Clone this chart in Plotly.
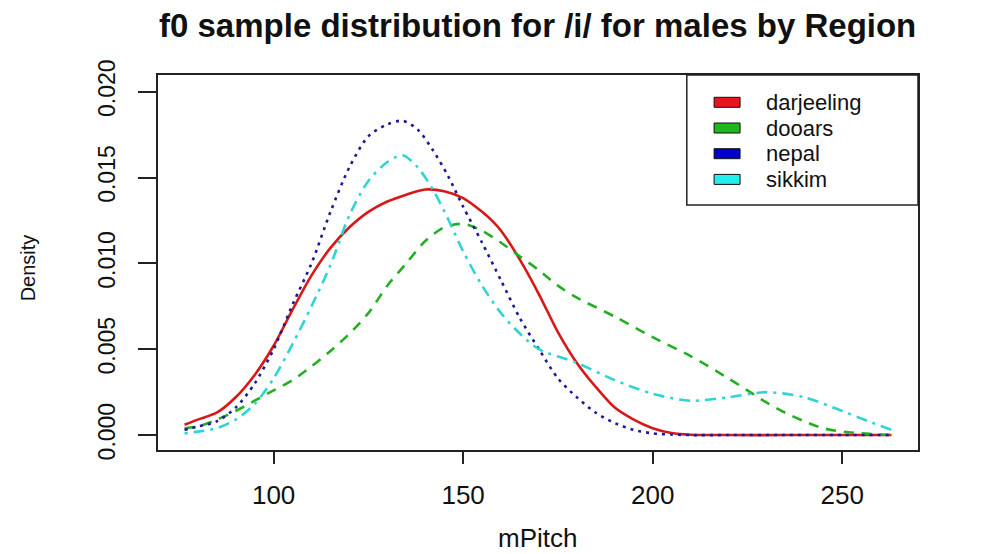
import plotly.graph_objects as go

# ---- data ----
regions = ["darjeeling", "dooars", "nepal", "sikkim"]

darjeeling_x = [76.5, 80, 85, 90, 95, 100, 105, 110, 115, 120, 125, 130, 135, 140, 145, 150, 155, 158,
                160, 165, 170, 175, 180, 185, 190, 195, 200, 205, 210, 220, 235, 250, 263]
darjeeling_y = [0.0006, 0.0009, 0.0013, 0.0022, 0.0035, 0.0052, 0.0073, 0.0093, 0.0109, 0.0121, 0.0130,
                0.0136, 0.0140, 0.0143, 0.0142, 0.0138, 0.0130, 0.0124, 0.0119, 0.0102, 0.0082, 0.0060,
                0.0042, 0.0028, 0.0016, 0.0009, 0.0004, 0.00012, 0.00002, 0.0, 0.0, 0.0, 0.0]

dooars_x = [76.5, 80, 85, 90, 95, 100, 105, 110, 115, 120, 125, 130, 135, 140, 145, 150, 155, 160, 165,
            170, 175, 180, 190, 200, 210, 220, 225, 230, 235, 240, 245, 250, 255, 263]
dooars_y = [0.0004, 0.0005, 0.0009, 0.0014, 0.0020, 0.0026, 0.0032, 0.0040, 0.0049, 0.0059, 0.0071,
            0.0087, 0.0100, 0.0113, 0.0121, 0.0123, 0.0119, 0.0112, 0.0104, 0.0096, 0.0087, 0.0080,
            0.0069, 0.0057, 0.0046, 0.0033, 0.0026, 0.0019, 0.0013, 0.0008, 0.0004, 0.0002, 0.0001, 0.0]

nepal_x = [76.5, 80, 85, 90, 95, 100, 105, 110, 115, 120, 125, 130, 134, 138, 142, 146, 150, 155, 160,
           165, 170, 175, 180, 185, 190, 195, 200, 205, 210, 220, 235, 250, 263]
nepal_y = [0.0003, 0.0005, 0.0008, 0.0016, 0.0030, 0.0050, 0.0076, 0.0100, 0.0130, 0.0156, 0.0174,
           0.0181, 0.0183, 0.0178, 0.0166, 0.0151, 0.0133, 0.0112, 0.0090, 0.0068, 0.0050, 0.0033,
           0.0022, 0.0013, 0.0007, 0.0003, 0.0001, 0.00003, 0.0, 0.0, 0.0, 0.0, 0.0]

sikkim_x = [76.5, 80, 85, 90, 95, 100, 105, 110, 115, 120, 125, 130, 134, 138, 142, 146, 150, 155, 160,
            165, 170, 180, 190, 200, 210, 220, 230, 240, 250, 257, 263]
sikkim_y = [0.0001, 0.0002, 0.0004, 0.0009, 0.0018, 0.0033, 0.0053, 0.0075, 0.0099, 0.0128, 0.0148,
            0.0159, 0.0163, 0.0156, 0.0143, 0.0126, 0.0107, 0.0087, 0.0071, 0.0059, 0.0050, 0.0042,
            0.0032, 0.0024, 0.0020, 0.0022, 0.0025, 0.0022, 0.0014, 0.0008, 0.0003]

x_ticks = [100, 150, 200, 250]
y_ticks = [0.0, 0.005, 0.010, 0.015, 0.020]

# ---- styling ----
line_colors = ["#d81818", "#22b022", "#1c1c96", "#30d4d4"]
legend_colors = ["#e8141e", "#1cb81c", "#0000cc", "#22eeee"]
dashes = ["solid", "10px,8px", "3px,5px", "3px,6px,11px,6px"]
FONT = "Liberation Sans, Arial, sans-serif"

series = [(darjeeling_x, darjeeling_y), (dooars_x, dooars_y), (nepal_x, nepal_y), (sikkim_x, sikkim_y)]

fig = go.Figure()
for (xs, ys), name, col, dsh in zip(series, regions, line_colors, dashes):
    fig.add_trace(go.Scatter(x=xs, y=ys, mode="lines", name=name,
                             line=dict(color=col, width=2.6, dash=dsh, shape="spline", smoothing=0.8),
                             showlegend=False))

# page body has an 8px margin, so the figure is 8px smaller and shifted
fig.update_layout(
    width=973, height=546,
    margin=dict(l=150, r=63, t=67, b=104),
    paper_bgcolor="white", plot_bgcolor="white",
    font=dict(family=FONT, color="#111"),
    xaxis=dict(range=[69.5, 270.0], tickvals=x_ticks, ticktext=[str(v) for v in x_ticks],
               showgrid=False, zeroline=False, showline=True, linecolor="#222", linewidth=1.5,
               mirror=True, ticks="outside", ticklen=12, tickwidth=1.5, tickcolor="#222",
               tickfont=dict(size=26, family=FONT, color="#111"), ticklabelstandoff=9),
    yaxis=dict(range=[-0.00087, 0.02097], tickvals=y_ticks, ticktext=[f"{v:.3f}" for v in y_ticks],
               showgrid=False, zeroline=False, showline=True, linecolor="#222", linewidth=1.5,
               mirror=True, ticks="outside", ticklen=18, tickwidth=1.5, tickcolor="#222",
               tickangle=-90, tickfont=dict(size=23, family=FONT, color="#111"),
               ticklabelstandoff=14),
)


def px_to_px(xp):
    return (xp - 157.7) / 760.3


def py_to_py(yp):
    return (450 - yp) / 375


annotations = [
    dict(text="<b>f0 sample distribution for /i/ for males by Region</b>", xref="paper", yref="paper",
         x=px_to_px(537.5), y=py_to_py(25), xanchor="center", yanchor="middle", showarrow=False,
         font=dict(size=33, family=FONT, color="#111")),
    dict(text="mPitch", xref="paper", yref="paper", x=px_to_px(537.5), y=py_to_py(538),
         xanchor="center", yanchor="middle", showarrow=False,
         font=dict(size=26, family=FONT, color="#111")),
    dict(text="Density", xref="paper", yref="paper", x=px_to_px(28), y=py_to_py(268),
         xanchor="center", yanchor="middle", textangle=-90, showarrow=False,
         font=dict(size=20, family=FONT, color="#111")),
]

# legend box drawn in paper coordinates
shapes = [dict(type="rect", xref="paper", yref="paper", x0=px_to_px(686.7), x1=1.0,
               y0=py_to_py(205), y1=1.0, line=dict(color="#222", width=1.5), fillcolor="white")]
centers = [102.3, 128.0, 153.7, 179.4]
for name, col, cy in zip(regions, legend_colors, centers):
    shapes.append(dict(type="rect", xref="paper", yref="paper", x0=px_to_px(714), x1=px_to_px(740),
                       y0=py_to_py(cy + 5), y1=py_to_py(cy - 5), line=dict(color="#111", width=1),
                       fillcolor=col))
    annotations.append(dict(text=name, xref="paper", yref="paper", x=px_to_px(764), y=py_to_py(cy),
                            xanchor="left", yanchor="middle", showarrow=False,
                            font=dict(size=22, family=FONT, color="#111")))

fig.update_layout(shapes=shapes, annotations=annotations)
fig.write_html("out.html")
